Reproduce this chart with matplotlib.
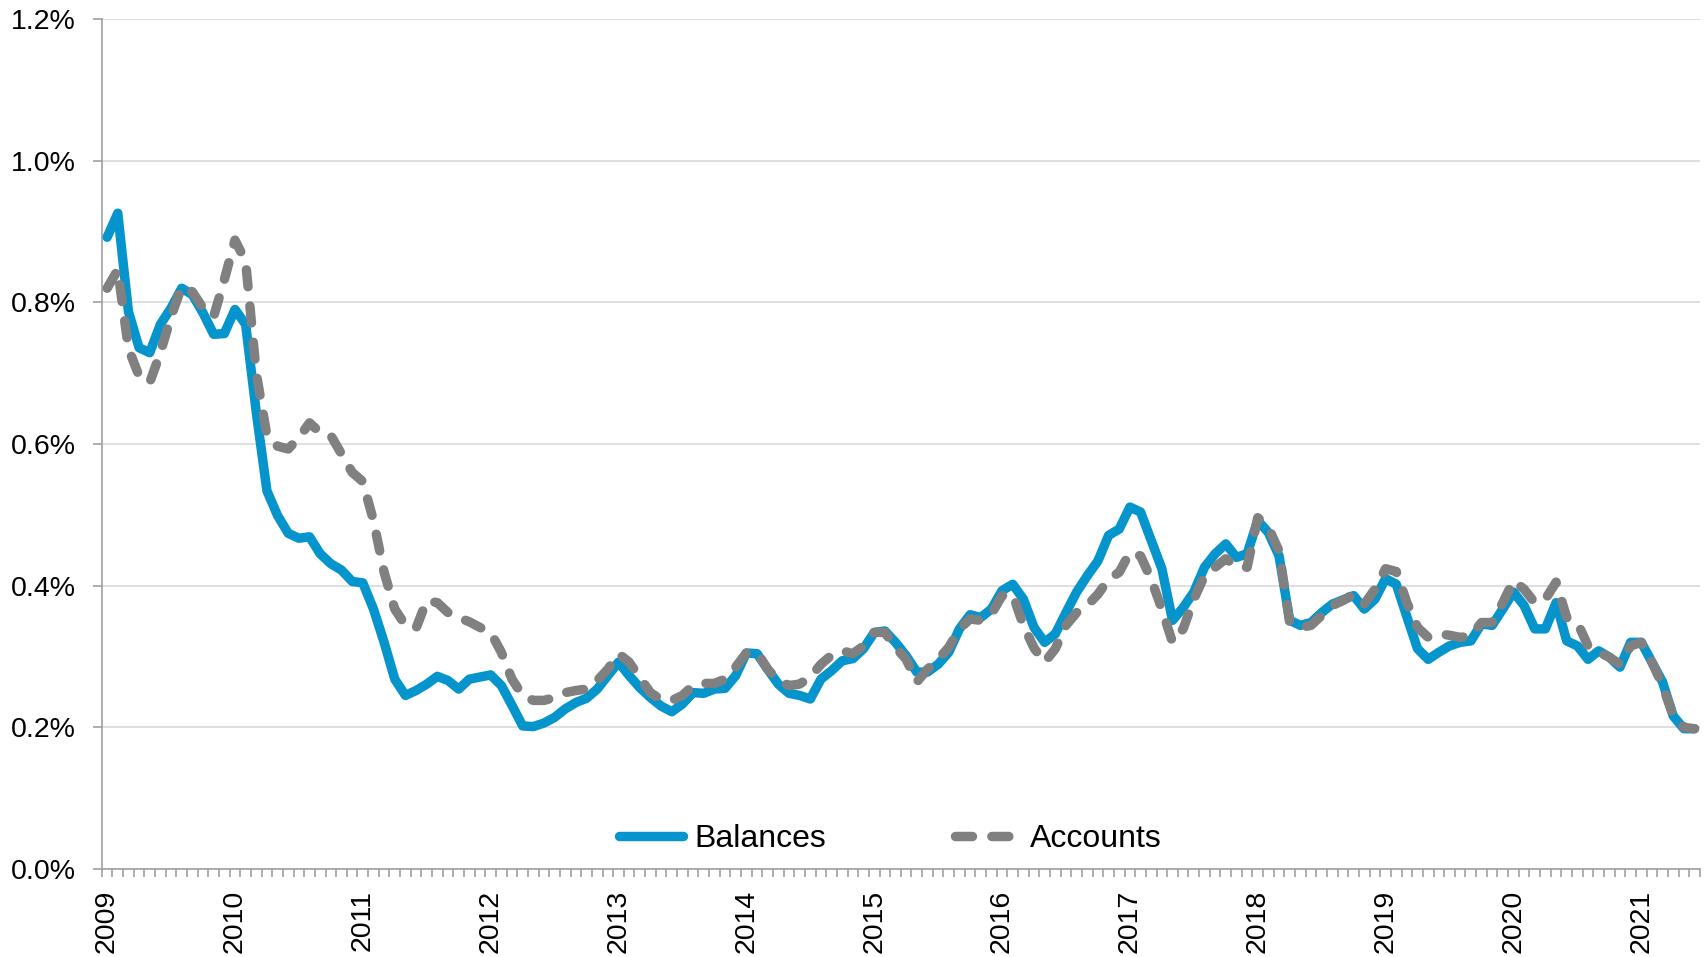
import numpy as np
import matplotlib
matplotlib.use("Agg")
import matplotlib.pyplot as plt

plt.rcParams["font.family"] = ["Liberation Sans", "DejaVu Sans"]

# Datos mensuales, enero 2009 - junio 2021 (en %)
years = [str(y) for y in range(2009, 2022)]

balances = [
    0.892, 0.926, 0.787, 0.736, 0.729, 0.769, 0.792, 0.820, 0.811, 0.785, 0.755, 0.756,  # 2009
    0.790, 0.769, 0.645, 0.534, 0.499, 0.474, 0.467, 0.469, 0.445, 0.431, 0.422, 0.406,  # 2010
    0.404, 0.367, 0.320, 0.268, 0.245, 0.252, 0.261, 0.272, 0.266, 0.254, 0.268, 0.271,  # 2011
    0.274, 0.259, 0.231, 0.202, 0.201, 0.206, 0.214, 0.226, 0.235, 0.241, 0.254, 0.273,  # 2012
    0.292, 0.273, 0.256, 0.242, 0.230, 0.222, 0.233, 0.249, 0.248, 0.254, 0.255, 0.273,  # 2013
    0.305, 0.304, 0.282, 0.261, 0.248, 0.245, 0.240, 0.268, 0.280, 0.294, 0.297, 0.311,  # 2014
    0.334, 0.336, 0.320, 0.301, 0.278, 0.278, 0.289, 0.306, 0.339, 0.359, 0.355, 0.367,  # 2015
    0.393, 0.402, 0.381, 0.341, 0.320, 0.332, 0.362, 0.391, 0.414, 0.435, 0.471, 0.480,  # 2016
    0.511, 0.504, 0.464, 0.424, 0.351, 0.369, 0.391, 0.426, 0.445, 0.459, 0.440, 0.445,  # 2017
    0.492, 0.475, 0.442, 0.351, 0.344, 0.348, 0.362, 0.374, 0.380, 0.386, 0.367, 0.381,  # 2018
    0.410, 0.402, 0.356, 0.311, 0.296, 0.306, 0.315, 0.320, 0.322, 0.346, 0.344, 0.367,  # 2019
    0.391, 0.372, 0.339, 0.339, 0.376, 0.322, 0.315, 0.296, 0.308, 0.299, 0.285, 0.320,  # 2020
    0.320, 0.292, 0.264, 0.216, 0.198, 0.198,                                            # 2021
]

accounts = [
    0.820, 0.846, 0.735, 0.696, 0.687, 0.729, 0.780, 0.822, 0.815, 0.792, 0.780, 0.832,  # 2009
    0.888, 0.858, 0.700, 0.612, 0.597, 0.593, 0.609, 0.630, 0.616, 0.612, 0.586, 0.560,  # 2010
    0.547, 0.492, 0.419, 0.367, 0.344, 0.340, 0.379, 0.376, 0.362, 0.355, 0.349, 0.341,  # 2011
    0.334, 0.306, 0.268, 0.245, 0.238, 0.238, 0.242, 0.249, 0.252, 0.254, 0.266, 0.282,  # 2012
    0.304, 0.292, 0.270, 0.249, 0.239, 0.238, 0.245, 0.259, 0.262, 0.262, 0.268, 0.285,  # 2013
    0.305, 0.306, 0.282, 0.266, 0.259, 0.261, 0.271, 0.289, 0.302, 0.308, 0.304, 0.315,  # 2014
    0.334, 0.334, 0.313, 0.296, 0.264, 0.282, 0.296, 0.313, 0.339, 0.353, 0.351, 0.360,  # 2015
    0.386, 0.388, 0.344, 0.312, 0.292, 0.311, 0.344, 0.362, 0.372, 0.388, 0.409, 0.419,  # 2016
    0.447, 0.442, 0.409, 0.367, 0.320, 0.339, 0.381, 0.414, 0.426, 0.438, 0.427, 0.426,  # 2017
    0.496, 0.482, 0.449, 0.348, 0.341, 0.344, 0.358, 0.372, 0.379, 0.388, 0.374, 0.395,  # 2018
    0.424, 0.420, 0.376, 0.341, 0.327, 0.332, 0.330, 0.327, 0.329, 0.348, 0.348, 0.376,  # 2019
    0.407, 0.395, 0.376, 0.381, 0.405, 0.355, 0.348, 0.315, 0.306, 0.299, 0.289, 0.315,  # 2020
    0.320, 0.292, 0.259, 0.216, 0.200, 0.198,                                            # 2021
]

n = len(balances)
x = np.arange(n) + 0.5

fig = plt.figure(figsize=(17.05, 9.57), dpi=100)
ax = fig.add_axes([0.0597, 0.092, 0.9373, 0.888])

azul = "#0594CB"
gris = "#808080"
eje = "#A0A0A0"

ax.plot(x, balances, color=azul, linewidth=6.8, solid_joinstyle="round",
        solid_capstyle="round", label="Balances", zorder=3)
ax.plot(x, accounts, color=gris, linewidth=6.8, dashes=(1.8, 2.05),
        dash_capstyle="round", dash_joinstyle="round", label="Accounts", zorder=4)

ax.set_xlim(0, n)
ax.set_ylim(0, 1.2)

yt = np.arange(0, 1.21, 0.2)
ax.set_yticks(yt)
ax.set_yticklabels([f"{v:.1f}%" for v in yt], fontsize=20.5)
ax.tick_params(axis="y", length=6.5, width=1.2, color=eje, pad=12.5)

ax.set_xticks(np.arange(0, n, 12) + 0.5)
ax.set_xticklabels(years, rotation=90, fontsize=20.5, va="top", ha="center")
ax.set_xticks(np.arange(0, n + 1), minor=True)
ax.tick_params(axis="x", which="major", length=0, pad=15)
ax.tick_params(axis="x", which="minor", length=6, width=1.2, color=eje)

ax.grid(axis="y", color="#D9D9D9", linewidth=1.2)
ax.set_axisbelow(True)
for s in ["top", "right"]:
    ax.spines[s].set_visible(False)
for s in ["left", "bottom"]:
    ax.spines[s].set_color(eje)
    ax.spines[s].set_linewidth(1.2)

ax.legend(loc="center", bbox_to_anchor=(0.4935, 0.035), ncol=2, frameon=False,
          fontsize=23, handlelength=2.0, handletextpad=0.35, columnspacing=4.05)

plt.savefig("out.png", dpi=100)
plt.close()
